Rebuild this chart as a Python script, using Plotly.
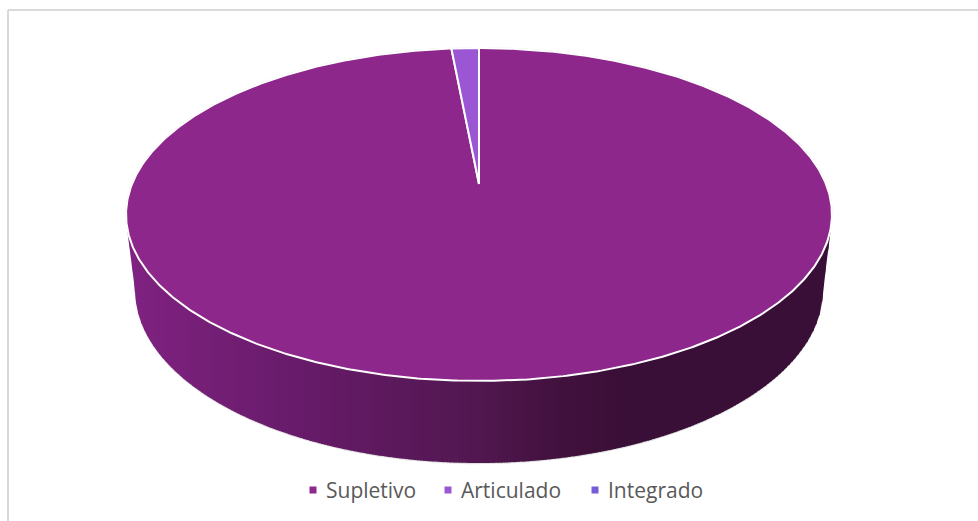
import numpy as np
import plotly.graph_objects as go

categories = ["Supletivo", "Articulado", "Integrado"]
shares = [98.5, 1.5, 0.0]
colors = ["#8E278B", "#9B57D3", "#755DD9"]

W, H = 978, 521
CX, CY, RX, RY = 479.0, 214.5, 353.0, 166.5      # top ellipse on the page
BCY, BRX, BRY = 290.0, 344.0, 173.0              # bottom rim ellipse
APEX_Y, A, B, P = 184.0, 347.0, 160.9, 0.183     # perspective of the pie disc


def disc(phi):
    """Pie angle (radians, clockwise from 12 o'clock) to page position."""
    u, v = np.sin(phi), np.cos(phi)
    w = 1 + P * v
    return CX + A * u / w, APEX_Y - B * v / w


def side_colour(x):
    xs = [126, 300, 480, 560, 620, 832]
    r = np.interp(x, xs, [0x80, 0x67, 0x51, 0x41, 0x3a, 0x3a])
    g = np.interp(x, xs, [0x22, 0x1b, 0x17, 0x11, 0x0f, 0x0f])
    b = np.interp(x, xs, [0x82, 0x69, 0x50, 0x3d, 0x37, 0x37])
    return f"rgb({r:.0f},{g:.0f},{b:.0f})"


def top_low(x):
    return CY + RY * np.sqrt(np.clip(1 - ((x - CX) / RX) ** 2, 0, 1))


def silhouette(x):
    """Lower outline of the solid: bottom rim, then a straight run up to the top ellipse."""
    dx = np.abs(x - CX)
    arc = BCY + BRY * np.sqrt(np.clip(1 - (dx / BRX) ** 2, 0, 1))
    run = BCY + (np.clip(dx, BRX, RX) - BRX) / (RX - BRX) * (CY + 6 - BCY)
    return np.maximum(np.where(dx < BRX, arc, run), top_low(x))


fig = go.Figure()

# pale fringe around the solid
t = np.linspace(0, 2 * np.pi, 361)
fx = np.linspace(CX - RX, CX + RX, 707)
edge_x = np.r_[fx, CX + (RX + 1) * np.cos(t[:181])]
edge_y = np.r_[silhouette(fx) + 1.2, CY - (RY + 1) * np.sin(t[:181])]
fig.add_trace(go.Scatter(x=edge_x, y=edge_y, mode="lines", fill="toself",
                         fillcolor="#e2e2e2", line=dict(width=0, color="#e2e2e2"),
                         hoverinfo="skip", showlegend=False))

# side wall as narrow vertical strips
edges = np.arange(CX - RX, CX + RX + 3, 3.0)
for x0, x1 in zip(edges[:-1], edges[1:]):
    xs = np.linspace(x0, min(x1 + 0.6, CX + RX), 5)
    xx = np.r_[xs, xs[::-1]]
    yy = np.r_[top_low(xs) - 2, silhouette(xs[::-1])]
    col = side_colour((x0 + x1) / 2)
    fig.add_trace(go.Scatter(x=xx, y=yy, mode="lines", fill="toself", fillcolor=col,
                             line=dict(width=0, color=col), hoverinfo="skip", showlegend=False))

# top face: one wedge per category, from the shares
start = 0.0
total = sum(shares)
for name, share, colour in zip(categories, shares, colors):
    a0 = start / total * 2 * np.pi
    a1 = (start + share) / total * 2 * np.pi
    start += share
    if share == 0:
        continue
    phi = np.linspace(a0, a1, max(3, int(share * 8)))
    px, py = disc(phi)
    fig.add_trace(go.Scatter(x=np.r_[CX, px, CX], y=np.r_[APEX_Y, py, APEX_Y],
                             mode="lines", fill="toself", fillcolor=colour,
                             line=dict(color="white", width=2), name=name,
                             hoverinfo="name", showlegend=False))

# legend row
legend_marker_x = [313, 448, 595]
fig.add_trace(go.Scatter(x=legend_marker_x, y=[490] * 3, mode="markers",
                         marker=dict(symbol="square", size=7, color=colors),
                         hoverinfo="skip", showlegend=False))
for name, mx in zip(categories, legend_marker_x):
    fig.add_annotation(x=mx + 11, y=489.5, text=name, showarrow=False, xanchor="left",
                       yanchor="middle", font=dict(family="Open Sans", size=21, color="#595959"))

# chart frame: top and left edges only
fig.add_shape(type="line", x0=8, x1=978, y0=10, y1=10, line=dict(color="#d9d9d9", width=2))
fig.add_shape(type="line", x0=8, x1=8, y0=10, y1=521, line=dict(color="#d9d9d9", width=2))

fig.update_layout(
    width=W, height=H, margin=dict(l=0, r=0, t=0, b=0), autosize=False,
    paper_bgcolor="white", plot_bgcolor="white", showlegend=False,
    xaxis=dict(range=[0, W], visible=False, fixedrange=True),
    yaxis=dict(range=[H, 0], visible=False, fixedrange=True),
)
fig.write_html("out.html", config={"displayModeBar": False},
               post_script="document.body.style.margin='0';document.body.style.overflow='hidden';")
